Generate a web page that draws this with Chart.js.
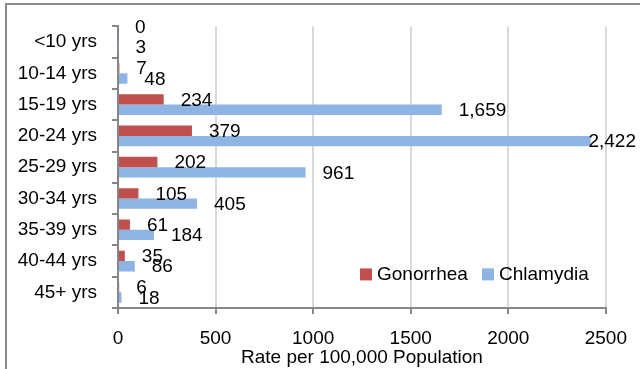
<!DOCTYPE html>
<html>
<head>
<meta charset="utf-8">
<script src="https://cdn.jsdelivr.net/npm/chart.js@4.4.1/dist/chart.umd.min.js"></script>
<style>
  html, body { margin: 0; padding: 0; background: #fff; }
  #wrap { width: 640px; height: 369px; position: relative; }
</style>
</head>
<body>
<div id="wrap"><canvas id="myChart" width="640" height="369"></canvas></div>
<script>
const ageGroups = ["<10 yrs", "10-14 yrs", "15-19 yrs", "20-24 yrs", "25-29 yrs", "30-34 yrs", "35-39 yrs", "40-44 yrs", "45+ yrs"];
const gonorrhea = [0, 7, 234, 379, 202, 105, 61, 35, 6];
const chlamydia = [3, 48, 1659, 2422, 961, 405, 184, 86, 18];
const xTicks = [0, 500, 1000, 1500, 2000, 2500];

const FONT = "'Liberation Sans', Arial, sans-serif";
const FONT_SIZE = 19;
const AXIS_GREY = "#868686";

// frame: only left and top edges show in the picture
const framePlugin = {
    id: "frame",
    beforeDraw(chart) {
        const ctx = chart.ctx;
        ctx.save();
        ctx.fillStyle = "#fff";
        ctx.fillRect(0, 0, chart.width, chart.height);
        ctx.strokeStyle = "#8c8c8c";
        ctx.lineWidth = 2;
        ctx.beginPath();
        ctx.moveTo(6, chart.height);
        ctx.lineTo(6, 4);
        ctx.lineTo(chart.width, 4);
        ctx.stroke();
        ctx.restore();
    },
};

const valueLabels = {
    id: "valueLabels",
    afterDatasetsDraw(chart) {
        const ctx = chart.ctx;
        ctx.save();
        ctx.font = FONT_SIZE + "px " + FONT;
        ctx.fillStyle = "#000";
        ctx.textBaseline = "middle";
        ctx.textAlign = "left";
        chart.data.datasets.forEach((ds, i) => {
            const meta = chart.getDatasetMeta(i);
            meta.data.forEach((bar, j) => {
                const txt = ds.data[j].toLocaleString("en-US");
                const w = ctx.measureText(txt).width;
                let x = bar.x + 17;
                if (x + w > chart.width - 4) x = chart.width - 4 - w;
                let y = bar.y + 1;
                // first series label nudged up when it would land right on the second one
                if (i === 0 && chart.data.datasets[1]) {
                    const other = chart.getDatasetMeta(1).data[j];
                    if (Math.abs(other.x - bar.x) < 1.5) y -= 10;
                }
                ctx.fillText(txt, x, y);
            });
        });
        ctx.restore();
    },
};

// legend sits inside the plot, lower right
const innerLegend = {
    id: "innerLegend",
    afterDraw(chart) {
        const ctx = chart.ctx;
        const area = chart.chartArea;
        ctx.save();
        ctx.font = FONT_SIZE + "px " + FONT;
        ctx.textBaseline = "middle";
        let x = area.left + 242;
        const y = area.top + 248;
        chart.data.datasets.forEach((ds) => {
            ctx.fillStyle = ds.backgroundColor;
            ctx.fillRect(x, y - 6, 12, 12);
            ctx.fillStyle = "#000";
            ctx.fillText(ds.label, x + 17, y);
            x += 122;
        });
        ctx.restore();
    },
};

const data = {
    labels: ageGroups,
    datasets: [
        {
            label: "Gonorrhea",
            backgroundColor: "#C0504D",
            data: gonorrhea,
        },
        {
            label: "Chlamydia",
            backgroundColor: "#8DB4E2",
            data: chlamydia,
        },
    ],
};

const config = {
    type: "bar",
    data,
    options: {
        indexAxis: "y",
        responsive: false,
        animation: false,
        devicePixelRatio: 1,
        datasets: {
            bar: { categoryPercentage: 0.66, barPercentage: 1.0 },
        },
        layout: { padding: { top: 23, right: 32, left: 0, bottom: 0 } },
        plugins: {
            legend: { display: false },
            tooltip: { enabled: false },
        },
        scales: {
            x: {
                min: 0,
                max: 2500,
                afterBuildTicks: (scale) => {
                    scale.ticks = xTicks.map((v) => ({ value: v }));
                },
                afterFit: (scale) => {
                    scale.height = 61;
                },
                grid: {
                    color: "#d9d9d9",
                    lineWidth: 2,
                    tickColor: AXIS_GREY,
                    tickLength: 6,
                },
                border: { color: AXIS_GREY, width: 2 },
                ticks: {
                    color: "#000",
                    font: { family: FONT, size: FONT_SIZE },
                    padding: 13,
                    maxRotation: 0,
                    callback: (v) => String(v),
                },
                title: {
                    display: true,
                    text: "Rate per 100,000 Population",
                    color: "#000",
                    font: { family: FONT, size: FONT_SIZE },
                    padding: { top: 0, bottom: 0 },
                },
            },
            y: {
                afterFit: (scale) => {
                    scale.width = 118;
                },
                grid: {
                    offset: true,
                    drawOnChartArea: false,
                    tickColor: AXIS_GREY,
                    tickLength: 6,
                    lineWidth: 2,
                },
                border: { color: AXIS_GREY, width: 2 },
                ticks: {
                    color: "#000",
                    font: { family: FONT, size: FONT_SIZE },
                    padding: 15,
                },
            },
        },
    },
    plugins: [framePlugin, valueLabels, innerLegend],
};

new Chart(document.getElementById("myChart"), config);
</script>
</body>
</html>
